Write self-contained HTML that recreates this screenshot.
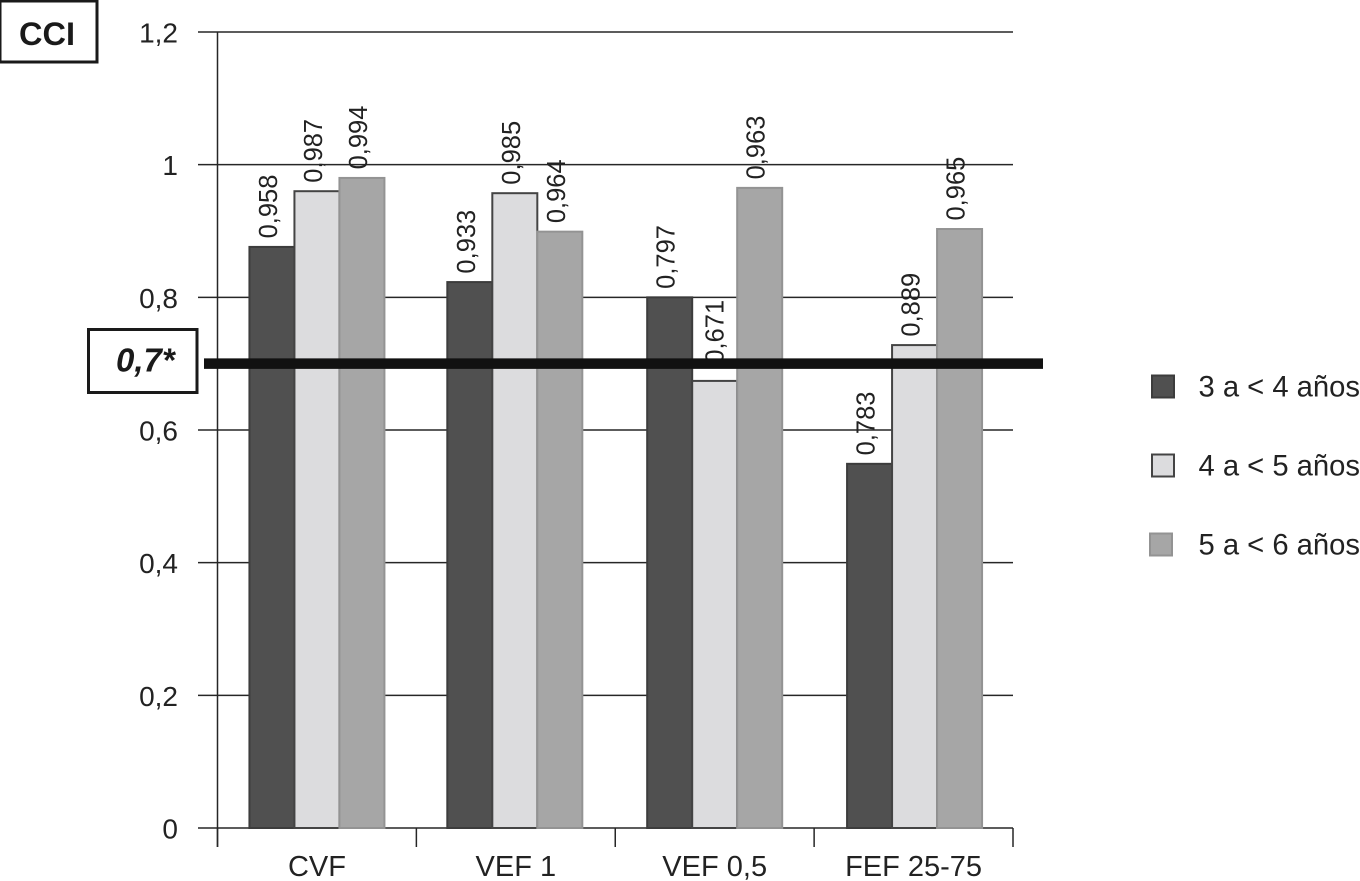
<!DOCTYPE html>
<html lang="es">
<head>
<meta charset="utf-8">
<title>CCI por grupo de edad</title>
<style>
  html, body { margin: 0; padding: 0; background: #fff; }
  body { width: 1360px; height: 881px; overflow: hidden; }
  svg { display: block; font-family: "Liberation Sans", Arial, sans-serif; fill: #222; }
</style>
</head>
<body>
<svg id="chart" width="1360" height="881" viewBox="0 0 1360 881" xmlns="http://www.w3.org/2000/svg"></svg>
<script>
const categories = ["CVF", "VEF 1", "VEF 0,5", "FEF 25-75"];
const seriesNames = ["3 a < 4 años", "4 a < 5 años", "5 a < 6 años"];
const valuesAge3 = [0.876, 0.823, 0.800, 0.549];
const valuesAge4 = [0.960, 0.957, 0.674, 0.728];
const valuesAge5 = [0.980, 0.899, 0.965, 0.903];
const printedAge3 = ["0,958", "0,933", "0,797", "0,783"];
const printedAge4 = ["0,987", "0,985", "0,671", "0,889"];
const printedAge5 = ["0,994", "0,964", "0,963", "0,965"];
const yTicks = [0, 0.2, 0.4, 0.6, 0.8, 1, 1.2];
const yTickLabels = ["0", "0,2", "0,4", "0,6", "0,8", "1", "1,2"];
const thresholdValue = 0.7;
const thresholdLabel = "0,7*";
const yAxisTitle = "CCI";

const seriesValues = [valuesAge3, valuesAge4, valuesAge5];
const seriesPrinted = [printedAge3, printedAge4, printedAge5];
const seriesFill = ["#505050", "#dcdcde", "#a6a6a6"];
const seriesStroke = ["#3c3c3c", "#444444", "#939393"];

const plotLeft = 217.5, plotRight = 1013, plotBottom = 828, plotTop = 32, yMax = 1.2;
const barWidth = 45;
const svg = document.getElementById("chart");
const NS = "http://www.w3.org/2000/svg";

function yScale(v) { return plotBottom - (v / yMax) * (plotBottom - plotTop); }
function catWidth() { return (plotRight - plotLeft) / categories.length; }
function catStart(i) { return plotLeft + i * catWidth(); }
function catNudge(c) { return c === 1 ? -1 : (c === 3 ? 1 : 0); }
function barX(c, s) { return catStart(c) + (catWidth() - barWidth * seriesValues.length) / 2 + s * barWidth + catNudge(c); }

function make(tag, attrs, text) {
  const el = document.createElementNS(NS, tag);
  for (const k in attrs) el.setAttribute(k, attrs[k]);
  if (text !== undefined) el.textContent = text;
  svg.appendChild(el);
  return el;
}
const lineStyle = { stroke: "#262626", "stroke-width": 1.5 };

/* gridlines + y ticks */
yTicks.forEach(function (t, i) {
  const grid = make("line", Object.assign({ x1: 198, x2: plotRight, y1: yScale(t), y2: yScale(t) }, lineStyle));
  
  
  const lab = make("text", { x: 178, y: yScale(t) + 10.5, "text-anchor": "end", "font-size": 28 }, yTickLabels[i]);
  
  
});

/* y axis */
const yAxis = make("line", Object.assign({ x1: plotLeft, x2: plotLeft, y1: yScale(yMax), y2: 847 }, lineStyle));



/* category ticks + labels */
for (let c = 0; c <= categories.length; c++) {
  const tick = make("line", Object.assign({ x1: catStart(c), x2: catStart(c), y1: plotBottom, y2: 847 }, lineStyle));
  
  
}
categories.forEach(function (name, c) {
  const lab = make("text", { x: catStart(c) + catWidth() / 2, y: 876, "text-anchor": "middle", "font-size": 29 }, name);
  
  
});

/* bars */
seriesValues.forEach(function (vals, s) {
  vals.forEach(function (v, c) {
    const bar = make("rect", {
      x: barX(c, s), y: yScale(v), width: barWidth, height: plotBottom - yScale(v),
      fill: seriesFill[s], stroke: seriesStroke[s], "stroke-width": 2
    });
    
    
  });
});

/* printed values: a label whose foot would land just under the threshold line is lifted and shifted */
seriesPrinted.forEach(function (labels, s) {
  labels.forEach(function (txt, c) {
    let bx = barX(c, s) + barWidth / 2 + 5;
    let by = yScale(seriesValues[s][c]) - 8.5;
    const lineY = yScale(thresholdValue);
    if (by > lineY && by < lineY + 14) {
      by = lineY;
      bx += 4;
    }
    const lab = make("text", { x: bx, y: by, "font-size": 25.5, transform: "rotate(-90 " + bx + " " + by + ")" }, txt);
    
    
  });
});

/* threshold line */
const threshold = make("line", { x1: 204, x2: 1043, y1: yScale(thresholdValue), y2: yScale(thresholdValue), stroke: "#111", "stroke-width": 10.5 });



const thresholdBox = make("rect", { x: 88.5, y: 329.5, width: 108.5, height: 63, fill: "#fff", stroke: "#1a1a1a", "stroke-width": 3 });


const thresholdText = make("text", { x: 116, y: yScale(thresholdValue) + 8, "font-size": 33, "font-weight": "bold", "font-style": "italic", fill: "#1a1a1a" }, thresholdLabel);



/* y axis title box */
const titleBox = make("rect", { x: 0, y: 1, width: 97, height: 61, fill: "#fff", stroke: "#1a1a1a", "stroke-width": 3 });


const titleText = make("text", { x: 47, y: 45, "text-anchor": "middle", "font-size": 32.5, "font-weight": "bold", fill: "#1a1a1a" }, yAxisTitle);



/* legend */
seriesNames.forEach(function (name, s) {
  const top = 375.5 + s * 79;
  const swatch = make("rect", {
    x: s === 2 ? 1150 : 1152, y: top, width: 22, height: 22,
    fill: seriesFill[s], stroke: seriesStroke[s], "stroke-width": 2
  });
  
  
  const lab = make("text", { x: 1198.5, y: top + 21, "font-size": 29.2 }, name);
  
  
});
</script>
</body>
</html>
